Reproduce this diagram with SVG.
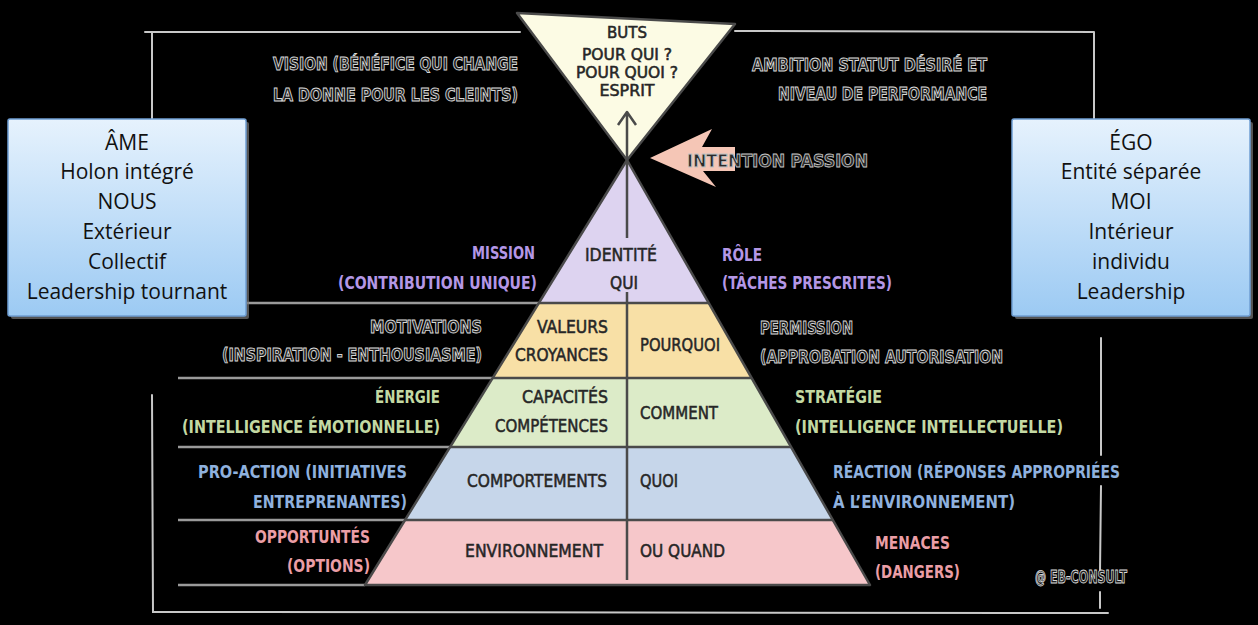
<svg xmlns="http://www.w3.org/2000/svg" width="1258" height="625" viewBox="0 0 1258 625">
<defs>
<linearGradient id="boxg" x1="0" y1="0" x2="0" y2="1">
<stop offset="0" stop-color="#e6f2fd"/>
<stop offset="1" stop-color="#9ccaf3"/>
</linearGradient>
<style>
.hw{font-family:'Liberation Sans Narrow','DejaVu Sans Condensed','Liberation Sans',sans-serif;font-size:17px;font-weight:bold}
.o{fill:#1e1e1e;stroke:#d8d8d8;stroke-width:0.9}
.pur{fill:#b497e6}
.grn{fill:#c3d9a3}
.blu{fill:#8fb1de}
.pnk{fill:#eb9ea6}
.in{font-family:'Liberation Sans Narrow','DejaVu Sans Condensed','Liberation Sans',sans-serif;font-size:18px;fill:#262626;stroke:#262626;stroke-width:0.5}
.bt{font-size:15px}
.bx{font-family:'Open Sans','Liberation Sans',sans-serif;font-size:21px;fill:#111;text-anchor:middle}
.frame{stroke:#c8c8c8;stroke-width:2;fill:none;stroke-linecap:round}
.sep{stroke:#9a9a9a;stroke-width:2.5;fill:none}
.edge{stroke:#4a4a4a;stroke-width:2.5;fill:none;stroke-linejoin:round}
.boxr{fill:url(#boxg);stroke:#6f9ed4;stroke-width:1.5}
.shadow{fill:#777;opacity:0.7}
</style>
</defs>
<rect x="0" y="0" width="1258" height="625" fill="#000"/>

<g id="connectors">
<path class="frame" d="M145 32 L520 32 M152 33 L152 119"/>
<path class="frame" d="M735 31 L1094 32 M1094 32 L1094 119"/>
<path class="frame" d="M152 395 L153 612 L1108 613"/>
<path class="frame" d="M1101 338 L1101 455 M1101 486 L1100 572 M1100 592 L1100 608"/>
<path class="sep" d="M247 303 L539 303 M178 378 L493 378 M178 447 L450 447 M178 520 L405 520 M178 585 L365 585"/>
</g>

<g id="buts">
<polygon points="517,13 735,24 627,160" fill="#fcfbe4" stroke="#4a4a4a" stroke-width="2.5" stroke-linejoin="round"/>
<text class="in bt" x="627" y="38" text-anchor="middle" textLength="40" lengthAdjust="spacingAndGlyphs">BUTS</text>
<text class="in bt" x="627" y="60" text-anchor="middle" textLength="90" lengthAdjust="spacingAndGlyphs">POUR QUI ?</text>
<text class="in bt" x="627" y="78" text-anchor="middle" textLength="102" lengthAdjust="spacingAndGlyphs">POUR QUOI ?</text>
<text class="in bt" x="627" y="96" text-anchor="middle" textLength="55" lengthAdjust="spacingAndGlyphs">ESPRIT</text>
</g>

<g id="pyramid">
<polygon points="627,160 709,303 539,303" fill="#ddd3f0"/>
<polygon points="539,303 709,303 752,378 493,378" fill="#f8e0a6"/>
<polygon points="493,378 752,378 791,447 450,447" fill="#dcebc8"/>
<polygon points="450,447 791,447 833,520 405,520" fill="#c6d6ea"/>
<polygon points="405,520 833,520 870,585 365,585" fill="#f6c7ca"/>
<path class="edge" d="M627 160 L870 585 L365 585 Z"/>
<path class="edge" d="M539 303 L709 303 M493 378 L752 378 M450 447 L791 447 M405 520 L833 520"/>
<path class="edge" d="M627 112 L627 238 M627 292 L627 580 M618 125 L627 112 L636 125"/>
</g>

<g id="level-identite">
<text class="in" x="621" y="261" text-anchor="middle" textLength="72" lengthAdjust="spacingAndGlyphs">IDENTITÉ</text>
<text class="in" x="624" y="289" text-anchor="middle" textLength="28" lengthAdjust="spacingAndGlyphs">QUI</text>
</g>
<g id="level-valeurs">
<text class="in" x="608" y="333" text-anchor="end" textLength="71" lengthAdjust="spacingAndGlyphs">VALEURS</text>
<text class="in" x="608" y="361" text-anchor="end" textLength="93" lengthAdjust="spacingAndGlyphs">CROYANCES</text>
<text class="in" x="640" y="351" textLength="80" lengthAdjust="spacingAndGlyphs">POURQUOI</text>
</g>
<g id="level-capacites">
<text class="in" x="608" y="403" text-anchor="end" textLength="86" lengthAdjust="spacingAndGlyphs">CAPACITÉS</text>
<text class="in" x="608" y="432" text-anchor="end" textLength="113" lengthAdjust="spacingAndGlyphs">COMPÉTENCES</text>
<text class="in" x="640" y="419" textLength="78" lengthAdjust="spacingAndGlyphs">COMMENT</text>
</g>
<g id="level-comportements">
<text class="in" x="467" y="487" textLength="140" lengthAdjust="spacingAndGlyphs">COMPORTEMENTS</text>
<text class="in" x="640" y="487" textLength="38" lengthAdjust="spacingAndGlyphs">QUOI</text>
</g>
<g id="level-environnement">
<text class="in" x="465" y="557" textLength="138" lengthAdjust="spacingAndGlyphs">ENVIRONNEMENT</text>
<text class="in" x="640" y="557" textLength="85" lengthAdjust="spacingAndGlyphs">OU QUAND</text>
</g>

<g id="intention">
<polygon points="650,158 712,129 702,147 735,147 735,171 703,171 716,187" fill="#f5c6b6"/>
<text class="hw" x="687" y="167" font-size="20" fill="#2a2a2a" stroke="#c4c4c4" stroke-width="0.8" textLength="181" lengthAdjust="spacingAndGlyphs">INTENTION PASSION</text>
</g>

<g id="vision">
<text class="hw o" x="273" y="70" textLength="245" lengthAdjust="spacingAndGlyphs">VISION (BÉNÉFICE QUI CHANGE</text>
<text class="hw o" x="273" y="101" textLength="245" lengthAdjust="spacingAndGlyphs">LA DONNE POUR LES CLEINTS)</text>
</g>
<g id="ambition">
<text class="hw o" x="752" y="71" textLength="235" lengthAdjust="spacingAndGlyphs">AMBITION STATUT DÉSIRÉ ET</text>
<text class="hw o" x="778" y="100" textLength="209" lengthAdjust="spacingAndGlyphs">NIVEAU DE PERFORMANCE</text>
</g>

<g id="mission">
<text class="hw pur" x="472" y="259" textLength="63" lengthAdjust="spacingAndGlyphs">MISSION</text>
<text class="hw pur" x="338" y="289" textLength="199" lengthAdjust="spacingAndGlyphs">(CONTRIBUTION UNIQUE)</text>
</g>
<g id="role">
<text class="hw pur" x="722" y="261" textLength="40" lengthAdjust="spacingAndGlyphs">RÔLE</text>
<text class="hw pur" x="722" y="289" textLength="170" lengthAdjust="spacingAndGlyphs">(TÂCHES PRESCRITES)</text>
</g>
<g id="motivations">
<text class="hw o" x="370" y="333" textLength="112" lengthAdjust="spacingAndGlyphs">MOTIVATIONS</text>
<text class="hw o" x="222" y="361" textLength="260" lengthAdjust="spacingAndGlyphs">(INSPIRATION - ENTHOUSIASME)</text>
</g>
<g id="permission">
<text class="hw o" x="760" y="334" textLength="93" lengthAdjust="spacingAndGlyphs">PERMISSION</text>
<text class="hw o" x="760" y="363" textLength="243" lengthAdjust="spacingAndGlyphs">(APPROBATION AUTORISATION</text>
</g>
<g id="energie">
<text class="hw grn" x="375" y="403" textLength="65" lengthAdjust="spacingAndGlyphs">ÉNERGIE</text>
<text class="hw grn" x="182" y="433" textLength="258" lengthAdjust="spacingAndGlyphs">(INTELLIGENCE ÉMOTIONNELLE)</text>
</g>
<g id="strategie">
<text class="hw grn" x="795" y="403" textLength="87" lengthAdjust="spacingAndGlyphs">STRATÉGIE</text>
<text class="hw grn" x="795" y="433" textLength="268" lengthAdjust="spacingAndGlyphs">(INTELLIGENCE INTELLECTUELLE)</text>
</g>
<g id="proaction">
<text class="hw blu" x="198" y="478" textLength="209" lengthAdjust="spacingAndGlyphs">PRO-ACTION (INITIATIVES</text>
<text class="hw blu" x="253" y="508" textLength="154" lengthAdjust="spacingAndGlyphs">ENTREPRENANTES)</text>
</g>
<g id="reaction">
<text class="hw blu" x="833" y="478" textLength="287" lengthAdjust="spacingAndGlyphs">RÉACTION (RÉPONSES APPROPRIÉES</text>
<text class="hw blu" x="833" y="508" textLength="182" lengthAdjust="spacingAndGlyphs">À L’ENVIRONNEMENT)</text>
</g>
<g id="opportunites">
<text class="hw pnk" x="255" y="543" textLength="115" lengthAdjust="spacingAndGlyphs">OPPORTUNTÉS</text>
<text class="hw pnk" x="287" y="572" textLength="83" lengthAdjust="spacingAndGlyphs">(OPTIONS)</text>
</g>
<g id="menaces">
<text class="hw pnk" x="875" y="549" textLength="75" lengthAdjust="spacingAndGlyphs">MENACES</text>
<text class="hw pnk" x="875" y="578" textLength="85" lengthAdjust="spacingAndGlyphs">(DANGERS)</text>
</g>
<g id="credit">
<text class="hw o" x="1035" y="583" font-size="12" stroke-width="0.6" textLength="92" lengthAdjust="spacingAndGlyphs">@ EB-CONSULT</text>
</g>

<g id="ame">
<rect class="shadow" x="11" y="122" width="238" height="197" rx="2"/>
<rect class="boxr" x="8" y="119" width="238" height="197" rx="2"/>
<text class="bx" x="127" y="150">ÂME</text>
<text class="bx" x="127" y="179">Holon intégré</text>
<text class="bx" x="127" y="209">NOUS</text>
<text class="bx" x="127" y="239">Extérieur</text>
<text class="bx" x="127" y="269">Collectif</text>
<text class="bx" x="127" y="299">Leadership tournant</text>
</g>
<g id="ego">
<rect class="shadow" x="1015" y="122" width="238" height="197" rx="2"/>
<rect class="boxr" x="1012" y="119" width="238" height="197" rx="2"/>
<text class="bx" x="1131" y="150">ÉGO</text>
<text class="bx" x="1131" y="179">Entité séparée</text>
<text class="bx" x="1131" y="209">MOI</text>
<text class="bx" x="1131" y="239">Intérieur</text>
<text class="bx" x="1131" y="269">individu</text>
<text class="bx" x="1131" y="299">Leadership</text>
</g>
</svg>
